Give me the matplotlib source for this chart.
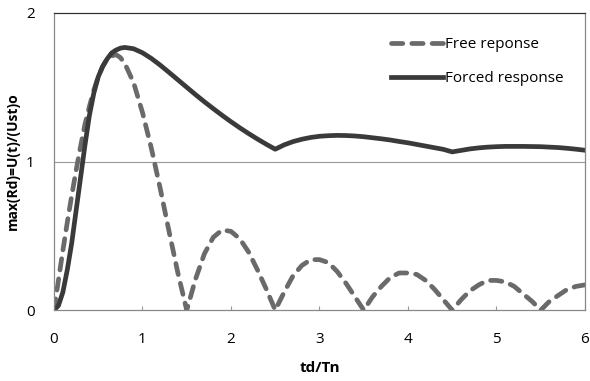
import matplotlib.pyplot as plt

# td/Tn values
td_tn = [0, 0.05, 0.1, 0.15, 0.2, 0.25, 0.3, 0.35, 0.4, 0.45, 0.5, 0.55, 0.6, 0.65,
         0.7, 0.75, 0.8, 0.9, 1.0, 1.1, 1.2, 1.3, 1.4, 1.5, 1.6, 1.7, 1.8, 1.9, 2.0,
         2.1, 2.2, 2.3, 2.4, 2.5, 2.6, 2.7, 2.8, 2.9, 3.0, 3.1, 3.2, 3.3, 3.4, 3.5,
         3.6, 3.7, 3.8, 3.9, 4.0, 4.1, 4.2, 4.3, 4.4, 4.5, 4.6, 4.7, 4.8, 4.9, 5.0,
         5.1, 5.2, 5.3, 5.4, 5.5, 5.6, 5.7, 5.8, 5.9, 6.0]

free_resp = [0, 0.20, 0.40, 0.59, 0.77, 0.94, 1.10, 1.25, 1.37, 1.48, 1.57, 1.64, 1.69, 1.71,
             1.72, 1.70, 1.66, 1.53, 1.33, 1.09, 0.82, 0.53, 0.25, 0, 0.21, 0.38, 0.49, 0.54, 0.53,
             0.48, 0.39, 0.27, 0.14, 0, 0.12, 0.23, 0.30, 0.34, 0.34, 0.32, 0.26, 0.18, 0.09, 0,
             0.09, 0.16, 0.22, 0.25, 0.25, 0.24, 0.20, 0.14, 0.07, 0, 0.07, 0.13, 0.17, 0.20, 0.20,
             0.19, 0.16, 0.11, 0.06, 0, 0.06, 0.10, 0.14, 0.16, 0.17]

forced_resp = [0, 0.03, 0.12, 0.27, 0.45, 0.67, 0.89, 1.11, 1.31, 1.46, 1.57, 1.64, 1.69, 1.73,
               1.75, 1.763, 1.768, 1.759, 1.732, 1.694, 1.649, 1.600, 1.550, 1.500, 1.450, 1.402,
               1.356, 1.311, 1.268, 1.227, 1.188, 1.151, 1.116, 1.083, 1.112, 1.134, 1.150, 1.162,
               1.170, 1.174, 1.176, 1.175, 1.172, 1.167, 1.160, 1.153, 1.145, 1.135, 1.126, 1.115,
               1.104, 1.093, 1.082, 1.065, 1.075, 1.085, 1.092, 1.097, 1.100, 1.102, 1.102, 1.102,
               1.101, 1.100, 1.097, 1.094, 1.089, 1.083, 1.076]

x_ticks = [0, 1, 2, 3, 4, 5, 6]
y_ticks = [0, 1, 2]

plt.rcParams['font.family'] = ['Open Sans', 'DejaVu Sans']

fig = plt.figure(figsize=(5.9, 3.81), dpi=100)
ax = fig.add_axes([0.0915, 0.186, 0.9, 0.78])

ax.plot(td_tn, free_resp, color='#6a6a6a', lw=3.4, ls=(0, (2.4, 1.9)),
        dash_capstyle='round', label='Free reponse')
ax.plot(td_tn, forced_resp, color='#3a3a3a', lw=3.4, label='Forced response')

ax.set_xlim(0, 6)
ax.set_ylim(0, 2)
ax.set_xticks(x_ticks)
ax.set_yticks(y_ticks)
ax.axhline(1, color='#999999', lw=0.8, zorder=0)

for s in ax.spines.values():
    s.set_color('#888888')
    s.set_linewidth(0.9)
ax.spines['top'].set_color('#333333')

ax.tick_params(axis='x', direction='in', length=3, color='#999999', labelsize=11, pad=16)
ax.tick_params(axis='y', length=0, labelsize=11, pad=14)

ax.set_xlabel('td/Tn', fontsize=11, fontweight='bold', labelpad=10)
ax.set_ylabel('max(Rd)=U(t)/(Ust)o', fontsize=10, fontweight='bold', labelpad=4)

ax.legend(loc='upper right', frameon=False, fontsize=11, handlelength=3.4,
          handletextpad=0.1, labelspacing=1.25, bbox_to_anchor=(0.985, 0.965))

fig.savefig('out.png', dpi=100)
